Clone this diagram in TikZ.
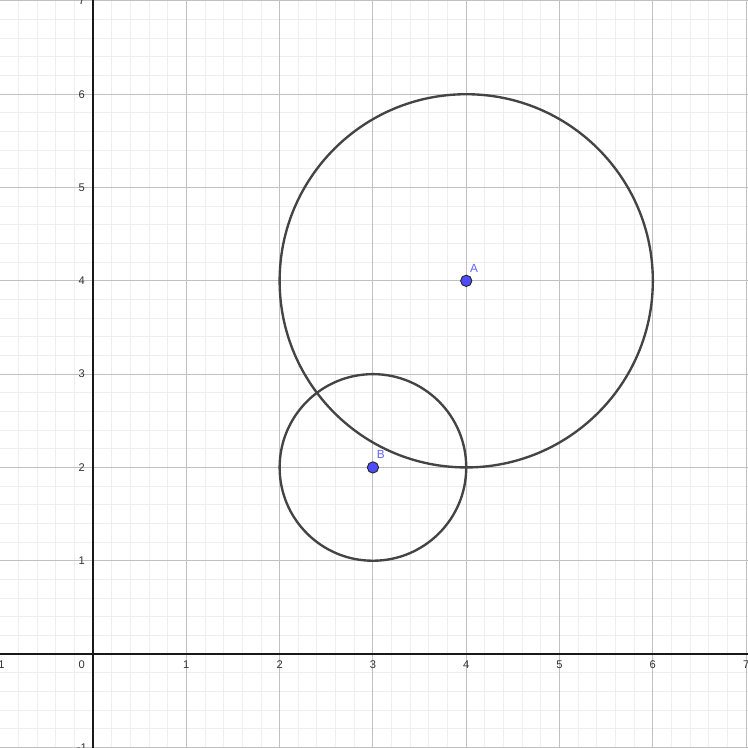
\documentclass[tikz,border=0pt]{standalone}
\usepackage{fontspec}
\setmainfont{Liberation Sans}
\usetikzlibrary{positioning}
\definecolor{ggblue}{HTML}{4D4DFF}
\definecolor{ggtext}{HTML}{6262F5}
\definecolor{ggline}{HTML}{444444}
\definecolor{ggmajor}{HTML}{C0C0C0}
\definecolor{ggminor}{HTML}{EEEEEE}

\begin{document}
\begin{tikzpicture}[
  x=2.5cm, y=2.5cm,
  font=\fontsize{8.5}{9}\selectfont,
  minorgrid/.style={draw=ggminor, line width=0.7pt},
  majorgrid/.style={draw=ggmajor, line width=0.75pt},
  axisline/.style={draw=black!90, line width=1.1pt},
  curve/.style={draw=ggline, line width=1.8pt},
  pt/.style={circle, fill=ggblue, draw=black!85, line width=0.7pt,
    minimum size=8.6pt, inner sep=0pt},
  ptlabel/.style={text=ggtext, inner sep=1pt, font=\fontsize{9}{10}\selectfont},
  ticklabel/.style={text=black!80, inner sep=0pt},
]
\useasboundingbox (-0.997,-0.997) rectangle (7.02,7.01);
\clip (-0.997,-0.997) rectangle (7.02,7.01);

% ---- grid and axes -------------------------------------------------------
\draw[minorgrid, step=0.2] (-1.2,-1.2) grid (7.2,7.2);
\draw[majorgrid, step=1] (-1.2,-1.2) grid (7.2,7.2);
\draw[axisline] (-1.2,0) -- (7.2,0);
\draw[axisline] (0,-1.2) -- (0,7.2);

\foreach \x in {-1,1,2,...,7}
  \node[ticklabel] (xl\x) at (\x,-0.11) {\x};
\foreach \y in {-1,1,2,...,7}
  \node[ticklabel] (yl\y) at (-0.12,\y) {\y};
\node[ticklabel] (orig) at (-0.12,-0.11) {0};

% ---- the two circles -----------------------------------------------------
\coordinate (cA) at (4,4);
\coordinate (cB) at (3,2);
\draw[curve] (cA) circle[radius=2];
\draw[curve] (cB) circle[radius=1];

% ---- centre points -------------------------------------------------------
\node[pt] (A) at (cA) {};
\node[pt] (B) at (cB) {};
\node[ptlabel, above right=2pt and -1.5pt of A] (Alab) {A};
\node[ptlabel, above right=2pt and -1.5pt of B] (Blab) {B};

\end{tikzpicture}
\end{document}
